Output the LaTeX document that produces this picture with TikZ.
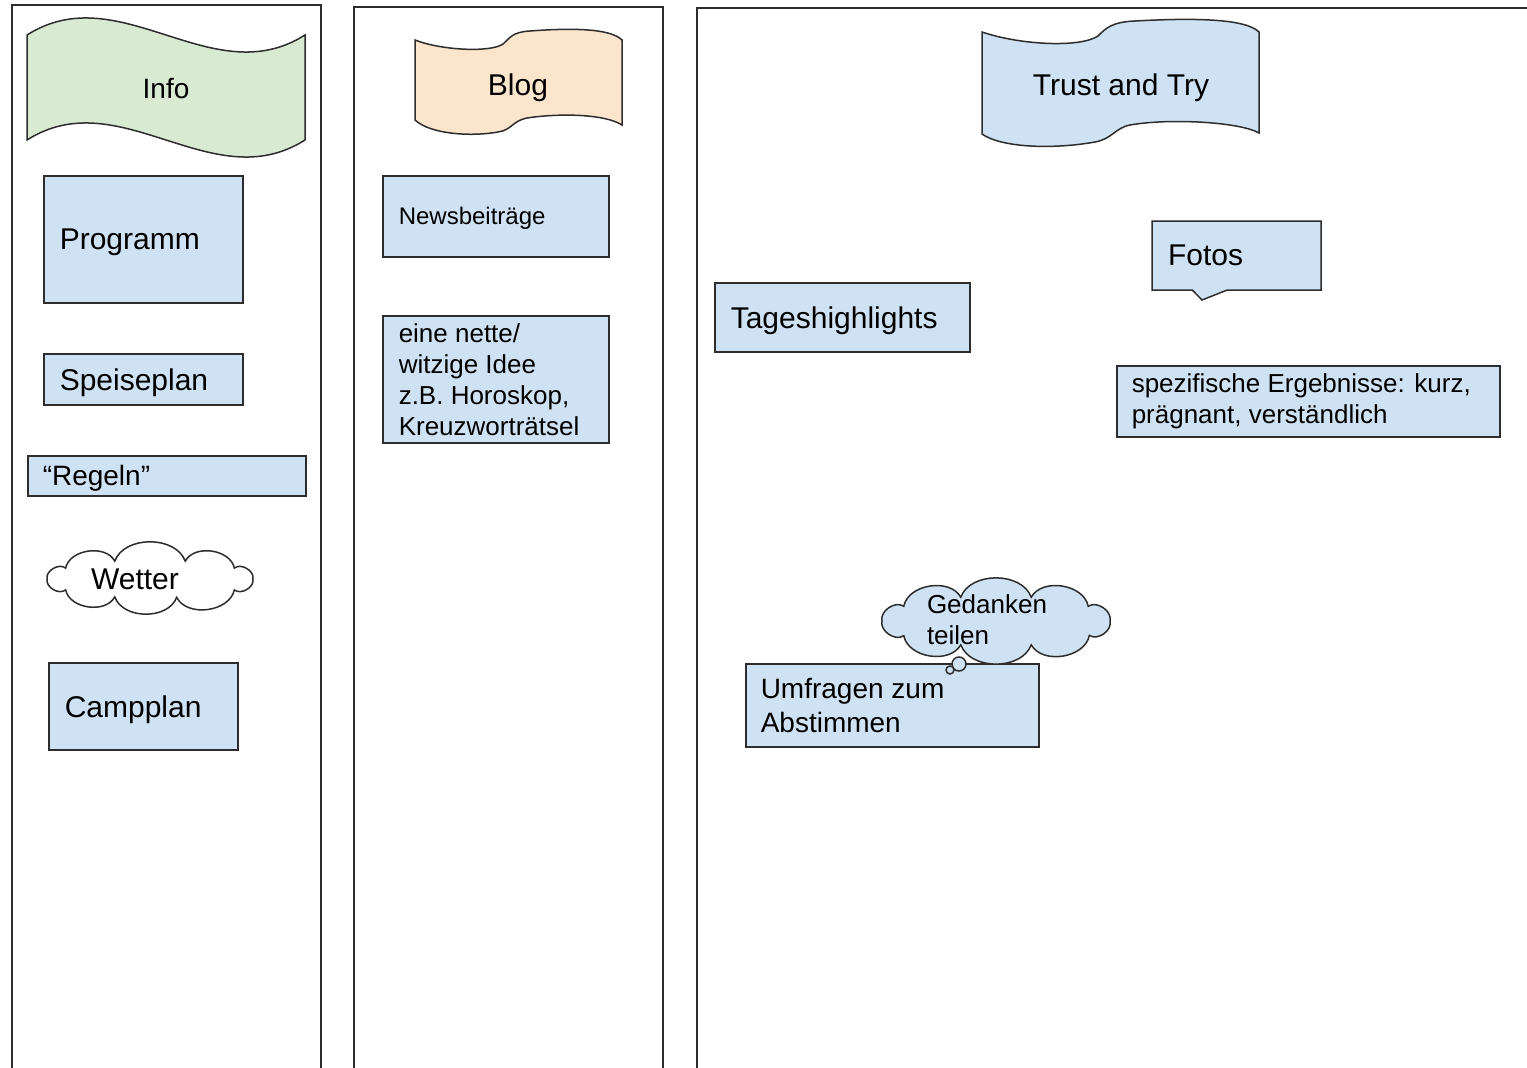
\documentclass[tikz,border=0pt]{standalone}
\usepackage{fontspec}
\setmainfont{Liberation Sans}
\usetikzlibrary{shapes.callouts}
\definecolor{kastenblau}{RGB}{207,226,243}
\definecolor{infogruen}{RGB}{217,234,211}
\definecolor{blogorange}{RGB}{252,229,205}
\definecolor{linie}{RGB}{45,45,45}
\newcommand{\schrift}[2]{\fontsize{#1}{#2}\selectfont}

\begin{document}
\begin{tikzpicture}[x=1pt, y=-1pt,
  rand/.style={draw=linie, line width=1.5pt},
  kasten/.style={rand, fill=kastenblau, anchor=north west, inner xsep=16pt, inner ysep=0pt, align=flush left},
  t24/.style={font=\schrift{24}{28}, text depth=0pt},
  t26/.style={font=\schrift{26}{31}},
  t28/.style={font=\schrift{28}{34}, text depth=0pt},
  t30/.style={font=\schrift{30}{34}, text depth=0pt},
  zeilen/.style={font=\schrift{28}{34}}]
  \useasboundingbox [fill=white] (0,0) rectangle (1527,1068);

  % Spalten
  \draw [rand] (12,1068) -- (12,5) -- (321,5) -- (321,1068);
  \draw [rand] (354,1068) -- (354,7) -- (663,7) -- (663,1068);
  \draw [rand] (697,1068) -- (697,8) -- (1527,8);

  % Info
  \draw [rand, fill=infogruen] (27,35) .. controls (120,-24) and (212,94) .. (305,35)
    -- (305,140) .. controls (212,199) and (120,81) .. (27,140) -- cycle;
  \node [t28] (info) at (166,88) {Info};
  \node [kasten, t30, text width=167pt, minimum height=127pt] (programm) at (43,175) {Programm};
  \node [kasten, t30, text width=167pt, minimum height=51pt] (speiseplan) at (43,353) {Speiseplan};
  \node [kasten, t28, inner xsep=15pt, text width=248pt, minimum height=40pt] (regeln) at (27,455) {“Regeln”};
  \coordinate (wetterm) at (150,579);
  \draw [rand, fill=white] ([shift={(0:103 and 19)}]wetterm)
    \foreach \w in {35,75,110,145,180,215,250,290,325,360} { to [bend left=70] ([shift={(\w:103 and 19)}]wetterm) };
  \node [t30] (wetter) at (135,579) {Wetter};
  \node [kasten, t30, text width=157pt, minimum height=87pt] (campplan) at (48,662) {Campplan};

  % Blog
  \draw [rand, fill=blogorange] (415,40) .. controls (440,50) and (490,53) .. (503,44)
    .. controls (510,38) and (512,32) .. (530,31) .. controls (570,28) and (610,28) .. (622,40)
    -- (622,125) .. controls (605,114) and (560,113) .. (527,118)
    .. controls (512,121) and (512,130) .. (498,132) .. controls (470,137) and (430,134) .. (415,120) -- cycle;
  \node [t30] (blog) at (518,85) {Blog};
  \node [kasten, t24, text width=194pt, minimum height=81pt] (news) at (382,175) {Newsbeiträge};
  \node [kasten, t26, text width=194pt, minimum height=127pt] (idee) at (382,315)
    {eine nette/\\witzige Idee\\z.B. Horoskop,\\Kreuzworträtsel};

  % Trust and Try
  \draw [rand, fill=kastenblau] (982,32) .. controls (1020,45) and (1080,48) .. (1098,36)
    .. controls (1106,28) and (1112,22) .. (1135,21) .. controls (1190,18) and (1245,18) .. (1259,32)
    -- (1259,133) .. controls (1240,122) and (1170,118) .. (1130,125)
    .. controls (1115,128) and (1112,139) .. (1095,142) .. controls (1050,150) and (1000,147) .. (982,134) -- cycle;
  \node [t30] (trust) at (1121,85) {Trust and Try};
  \node [kasten, t30, text width=223pt, minimum height=69pt] (tages) at (714,282) {Tageshighlights};
  \node [rand, fill=kastenblau, t30, rectangle callout, callout absolute pointer={(1202,300)}, callout pointer width=35pt,
    inner xsep=16pt, inner ysep=0pt, text width=137pt, minimum height=69pt, align=flush left] (fotos) at (1236.5,255.5) {Fotos};
  \node [kasten, t26, inner xsep=15pt, text width=353pt, minimum height=71pt] (ergebnisse) at (1116,365)
    {spezifische Ergebnisse: kurz,\\prägnant, verständlich};
  \node [kasten, zeilen, inner xsep=15pt, text width=263pt, minimum height=83pt] (umfragen) at (745,663)
    {Umfragen zum\\Abstimmen};
  \coordinate (gedankenm) at (996,621);
  \draw [rand, fill=kastenblau] ([shift={(0:114 and 25)}]gedankenm)
    \foreach \w in {35,72,108,144,180,216,252,288,324,360} { to [bend left=70] ([shift={(\w:114 and 25)}]gedankenm) };
  \draw [rand, fill=kastenblau] (959,664) circle [radius=7];
  \draw [rand, fill=kastenblau] (950,670) circle [radius=4];
  \node [t26, text depth=0pt, align=flush left] (gedanken) at (987,620) {Gedanken\\teilen};
\end{tikzpicture}
\end{document}
